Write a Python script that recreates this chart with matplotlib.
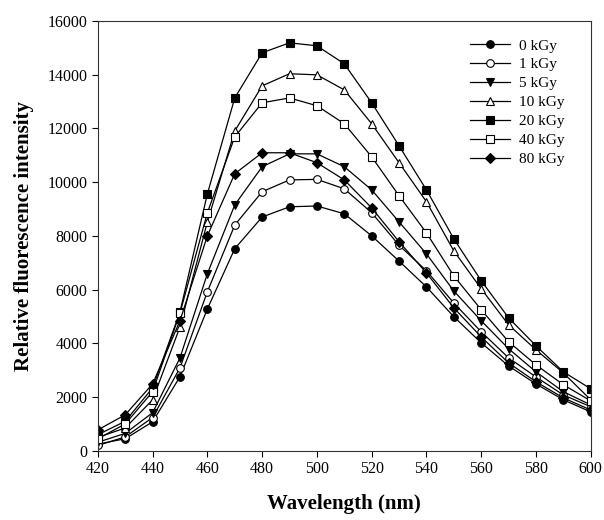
import numpy as np
import matplotlib
matplotlib.use("Agg")
import matplotlib.pyplot as plt

# fluorescence spectra, values
wavelength = [420, 430, 440, 450, 460, 470, 480, 490, 500, 510,
              520, 530, 540, 550, 560, 570, 580, 590, 600]

kgy_0 = [250, 450, 1080, 2760, 5280, 7520, 8700, 9080, 9110, 8820,
         8000, 7060, 6100, 4990, 4020, 3160, 2490, 1900, 1450]
kgy_1 = [200, 520, 1240, 3090, 5920, 8400, 9640, 10080, 10100, 9750,
         8860, 7650, 6700, 5500, 4430, 3460, 2750, 2080, 1640]
kgy_5 = [320, 650, 1420, 3460, 6590, 9150, 10570, 11050, 11050, 10570,
         9710, 8520, 7330, 5950, 4840, 3800, 2940, 2200, 1710]
kgy_10 = [500, 850, 1900, 4610, 8520, 11900, 13580, 14030, 13990, 13430,
          12170, 10720, 9270, 7440, 6030, 4690, 3760, 2900, 1900]
kgy_20 = [600, 1100, 2340, 5170, 9560, 13130, 14810, 15180, 15070, 14400,
          12950, 11350, 9710, 7890, 6330, 4950, 3910, 2940, 2310]
kgy_40 = [450, 1000, 2200, 5130, 8860, 11680, 12950, 13130, 12840, 12170,
          10940, 9490, 8110, 6510, 5250, 4060, 3200, 2460, 1860]
kgy_80 = [780, 1340, 2490, 4840, 8000, 10310, 11090, 11090, 10720, 10080,
          9040, 7780, 6620, 5320, 4240, 3270, 2570, 1970, 1520]

series = [kgy_0, kgy_1, kgy_5, kgy_10, kgy_20, kgy_40, kgy_80]
labels = ["0 kGy", "1 kGy", "5 kGy", "10 kGy", "20 kGy", "40 kGy", "80 kGy"]
markers = ["o", "o", "v", "^", "s", "s", "D"]
filled = [True, False, True, False, True, False, True]

plt.rcParams["font.family"] = ["Liberation Serif", "DejaVu Serif"]

fig, ax = plt.subplots(figsize=(6.04, 5.2), dpi=100)
fig.subplots_adjust(left=0.162, right=0.978, top=0.96, bottom=0.133)

for y, lab, m, f in zip(series, labels, markers, filled):
    ms = 5.5 if m != "D" else 5.2
    ax.plot(wavelength, y, marker=m, color="black", lw=0.9, ms=ms,
            mfc="black" if f else "white", mec="black", mew=0.8, label=lab)

ax.set_xlim(420, 600)
ax.set_ylim(0, 16000)
ax.set_xticks(np.arange(420, 601, 20))
ax.set_yticks(np.arange(0, 16001, 2000))
ax.tick_params(direction="out", length=4, width=0.8, labelsize=11.5,
               top=False, right=False)
for s in ax.spines.values():
    s.set_linewidth(0.8)
    s.set_color("#333333")

ax.set_xlabel("Wavelength (nm)", fontsize=15, fontweight="bold", labelpad=12)
ax.set_ylabel("Relative fluorescence intensity", fontsize=15,
              fontweight="bold", labelpad=10)

ax.legend(loc="upper right", bbox_to_anchor=(0.975, 0.99), frameon=False,
          fontsize=11, handlelength=2.6, labelspacing=0.34, handletextpad=0.6)

fig.savefig("out.png", dpi=100)
